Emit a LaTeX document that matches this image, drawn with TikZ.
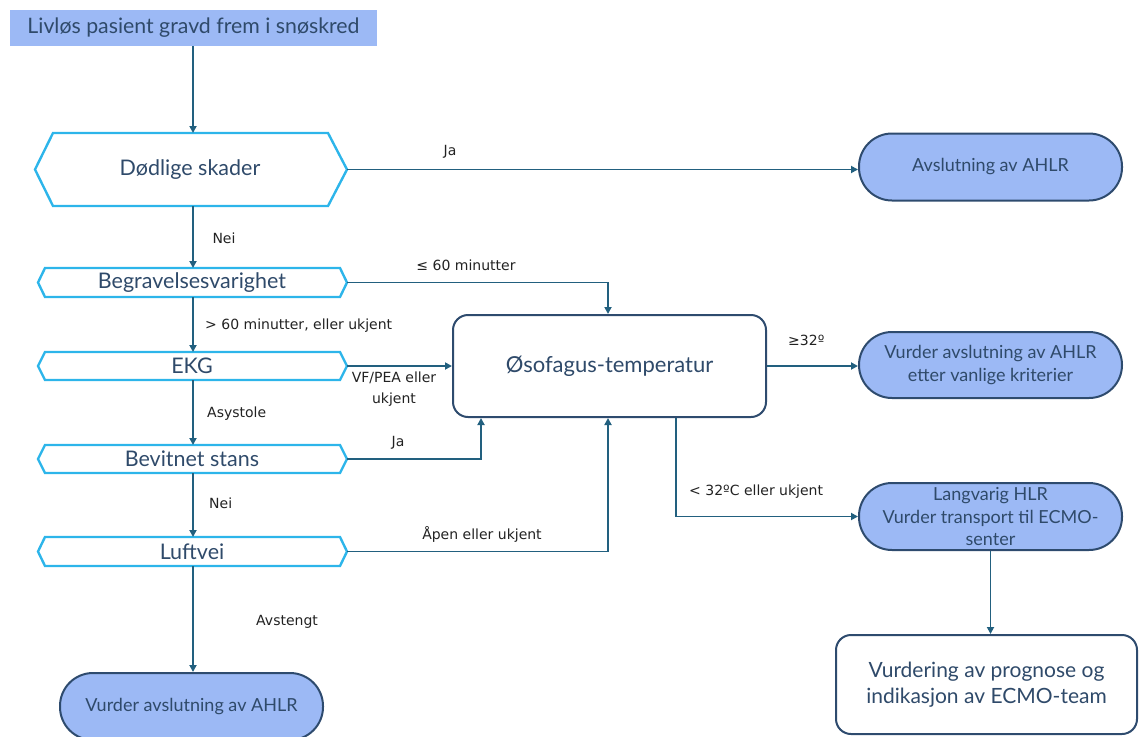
\documentclass[tikz,border=0pt]{standalone}
\usepackage{fontspec}
\setmainfont{Lato}
\newfontfamily\lblfont{DejaVu Sans}
\usetikzlibrary{arrows.meta,calc}
\definecolor{boxfill}{HTML}{9CB9F5}
\definecolor{boxline}{HTML}{2E4B6E}
\definecolor{nodetext}{HTML}{2F4A6A}
\definecolor{conn}{HTML}{22607F}
\definecolor{hexline}{HTML}{2DB5EA}
\definecolor{lbltext}{HTML}{222222}
\tikzset{
  conline/.style={draw=conn, line width=1.8pt, -{Triangle[length=7pt,width=7pt]}},
  hexborder/.style={draw=hexline, line width=2.4pt, line join=miter},
  hextext/.style={text=nodetext, inner sep=0pt, font=\fontsize{21.5}{25}\selectfont},
  titlebox/.style={fill=boxfill, draw=none, minimum width=367pt, minimum height=36pt, inner sep=0pt, text=nodetext, font=\fontsize{21.3}{25}\selectfont},
  stadium/.style={fill=boxfill, draw=boxline, line width=2pt, rounded corners=33pt, minimum width=263pt, minimum height=67pt, inner sep=0pt, align=center, text=nodetext, font=\fontsize{18}{22.5}\selectfont},
  whitebox/.style={fill=white, draw=boxline, line width=2pt, rounded corners=15pt, inner sep=0pt, align=center, text=nodetext},
  lbl/.style={text=lbltext, inner sep=0pt, font=\lblfont\fontsize{14}{21}\selectfont, align=center}
}
\begin{document}
\begin{tikzpicture}[x=1pt,y=-1pt]
\useasboundingbox (0,0) rectangle (1139,736);
\clip (0,0) rectangle (1139,736);

% title
\node[titlebox] (title) at (193.5,28) {Livløs pasient gravd frem i snøskred};

% hexagons
\draw[hexborder] (53,133) -- (328,133) -- (347,169.5) -- (328,206) -- (53,206) -- (35,169.5) -- cycle;
\node[hextext] (dod) at (190,169.5) {Dødlige skader};
\coordinate (dodR) at (347,169.5);
\coordinate (dodT) at (193,133);
\coordinate (dodB) at (193,206);

\draw[hexborder] (45,268) -- (340,268) -- (347,282.5) -- (340,297) -- (45,297) -- (38,282.5) -- cycle;
\node[hextext] (beg) at (192,282.5) {Begravelsesvarighet};
\coordinate (begR) at (347,282.5);
\coordinate (begT) at (193,268);
\coordinate (begB) at (193,297);

\draw[hexborder] (45,352) -- (340,352) -- (347,366) -- (340,380) -- (45,380) -- (38,366) -- cycle;
\node[hextext] (ekg) at (192,366) {EKG};
\coordinate (ekgR) at (347,366);
\coordinate (ekgT) at (193,352);
\coordinate (ekgB) at (193,380);

\draw[hexborder] (45,445) -- (340,445) -- (347,459) -- (340,473) -- (45,473) -- (38,459) -- cycle;
\node[hextext] (bev) at (192,459) {Bevitnet stans};
\coordinate (bevR) at (347,459);
\coordinate (bevT) at (193,445);
\coordinate (bevB) at (193,473);

\draw[hexborder] (45,537) -- (340,537) -- (347,551.5) -- (340,566) -- (45,566) -- (38,551.5) -- cycle;
\node[hextext] (luf) at (192,551.5) {Luftvei};
\coordinate (lufR) at (347,551.5);
\coordinate (lufT) at (193,537);
\coordinate (lufB) at (193,566);

% central box
\node[whitebox, minimum width=313pt, minimum height=102pt, font=\fontsize{22}{26}\selectfont] (oso) at (609.5,366) {Øsofagus-temperatur};

% terminal boxes
\node[stadium] (avsl) at (990.5,167) {Avslutning av AHLR};
\node[stadium, minimum height=66pt] (vurd1) at (990.5,365) {Vurder avslutning av AHLR\\etter vanlige kriterier};
\node[stadium] (lang) at (990.5,516.5) {Langvarig HLR\\Vurder transport til ECMO-\\senter};
\node[stadium] (vurd2) at (191.5,706.5) {Vurder avslutning av AHLR};
\node[whitebox, minimum width=301pt, minimum height=99pt, font=\fontsize{21}{26}\selectfont] (ecmo) at (986.5,684.5) {Vurdering av prognose og\\indikasjon av ECMO-team};

% connectors
\draw[conline] (title.south -| dodT) -- (dodT);
\draw[conline] (dodB) -- (begT);
\draw[conline] (begB) -- (ekgT);
\draw[conline] (ekgB) -- (bevT);
\draw[conline] (bevB) -- (lufT);
\draw[conline] (lufB) -- (lufB |- vurd2.north);
\draw[conline] (dodR) -- (dodR -| avsl.west);
\draw[conline] (begR) -| ($(oso.north)+(-1.5,0)$);
\draw[conline] (ekgR) -- (oso.west);
\draw[conline] (bevR) -| ($(oso.south west)+(29,0)$);
\draw[conline] (lufR) -| ($(oso.south)+(-1.5,0)$);
\draw[conline] (oso.east) -- (oso.east -| vurd1.west);
\draw[conline] ($(oso.south west)+(224,0)$) |- (lang.west);
\draw[conline] (lang.south) -- (lang.south |- ecmo.north);

% labels
\node[lbl] (lJa1) at (450,152) {Ja};
\node[lbl] (lNei1) at (224,238) {Nei};
\node[lbl] (l60a) at (466,265) {≤ 60 minutter};
\node[lbl, anchor=west] (l60b) at (205,326) {> 60 minutter, eller ukjent};
\node[lbl] (lvf) at (394,389.5) {VF/PEA eller\\ukjent};
\node[lbl, anchor=west] (lasy) at (207,414) {Asystole};
\node[lbl] (lJa2) at (398,443) {Ja};
\node[lbl, anchor=west] (lNei2) at (209,503) {Nei};
\node[lbl] (lapen) at (482,534) {Åpen eller ukjent};
\node[lbl, anchor=west] (l32a) at (788,340) {≥32º};
\node[lbl, anchor=west] (l32b) at (689,492) {< 32ºC eller ukjent};
\node[lbl, anchor=west] (lavs) at (256,622) {Avstengt};
\end{tikzpicture}
\end{document}
